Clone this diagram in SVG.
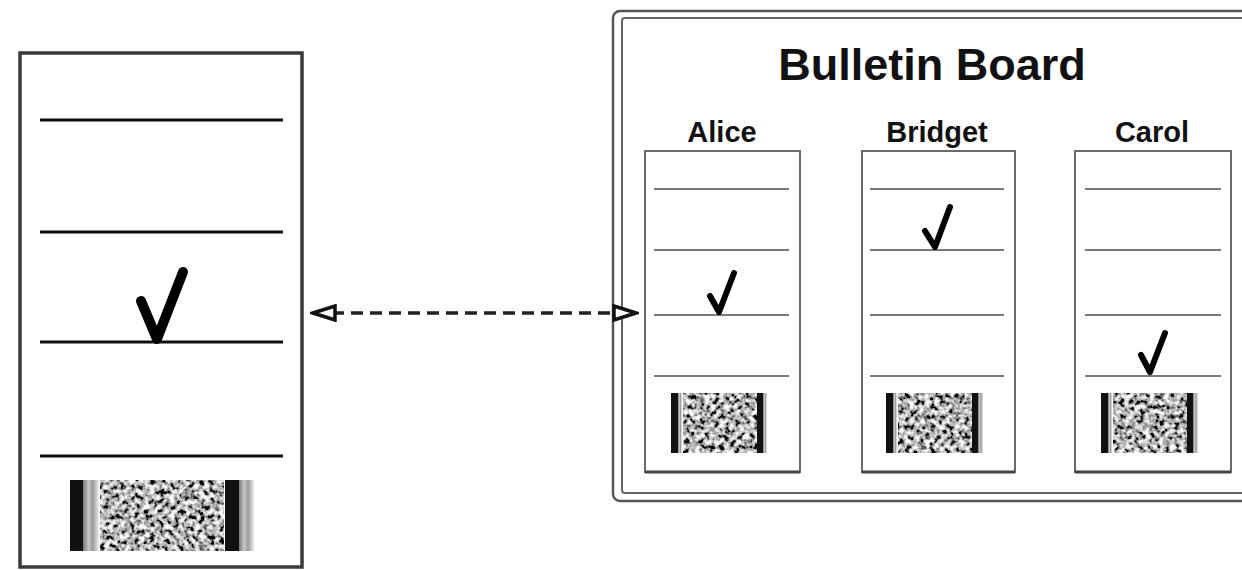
<svg xmlns="http://www.w3.org/2000/svg" width="1242" height="570" viewBox="0 0 1242 570">
  <style>
    .ballot { fill: #fff; stroke: #3a3a3a; stroke-width: 3.5; }
    .bigline { stroke: #111; stroke-width: 3; }
    .card { fill: #fff; stroke: #6a6a6a; stroke-width: 2; }
    .cardbottom { stroke: #444; stroke-width: 3; }
    .cardline { stroke: #7a7a7a; stroke-width: 2; }
    .check { fill: none; stroke: #000; stroke-linecap: round; stroke-linejoin: round; }
    .bar { fill: #111; }
    .title { font-family: "Liberation Sans", Arial, sans-serif; font-weight: bold; fill: #111; text-anchor: middle; }
    .conn { stroke: #222; stroke-width: 3.5; stroke-dasharray: 12 7; fill: none; }
  </style>
  <defs>
    <filter id="noise" x="0" y="0" width="1" height="1" filterUnits="objectBoundingBox">
      <feTurbulence type="fractalNoise" baseFrequency="0.2" numOctaves="2" seed="7" result="t"/>
      <feColorMatrix in="t" type="matrix" values="2.6 0 0 0 -0.85  2.6 0 0 0 -0.85  2.6 0 0 0 -0.85  0 0 0 0 1" result="g"/>
      <feGaussianBlur in="g" stdDeviation="0.7"/>
    </filter>
    <linearGradient id="fade" x1="0" y1="0" x2="1" y2="0">
      <stop offset="0" stop-color="#777"/>
      <stop offset="0.35" stop-color="#c8c8c8"/>
      <stop offset="0.6" stop-color="#999"/>
      <stop offset="1" stop-color="#eee"/>
    </linearGradient>
    <marker id="openTri" viewBox="0 0 28 18" refX="25" refY="9" markerWidth="28" markerHeight="18" markerUnits="userSpaceOnUse" orient="auto-start-reverse">
      <path d="M3,2 L25,9 L3,16 Z" fill="#fff" stroke="#111" stroke-width="3.5" stroke-linejoin="miter"/>
    </marker>
  </defs>

  <g id="ballot">
    <rect class="ballot" x="20" y="53" width="282" height="514"/>
    <line class="bigline" x1="40" y1="120" x2="283" y2="120"/>
    <line class="bigline" x1="40" y1="232" x2="283" y2="232"/>
    <line class="bigline" x1="40" y1="342" x2="283" y2="342"/>
    <line class="bigline" x1="40" y1="456" x2="283" y2="456"/>
    <path class="check" d="M141,301 L157,339 L183,272" stroke-width="10"/>
    <g id="ballot-barcode">
      <rect x="70" y="480" width="13" height="71" class="bar"/>
      <rect x="83" y="480" width="16" height="71" fill="url(#fade)"/>
      <rect x="100" y="480" width="124" height="71" filter="url(#noise)"/>
      <rect x="225" y="480" width="14" height="71" class="bar"/>
      <rect x="239" y="480" width="15" height="71" fill="url(#fade)"/>
    </g>
  </g>

  <g id="bulletin-board">
    <rect x="613" y="11" width="700" height="490" rx="7" fill="#fff" stroke="#555" stroke-width="2.5"/>
    <rect x="622" y="18" width="700" height="475" rx="3" fill="none" stroke="#666" stroke-width="2"/>
    <text class="title" x="932" y="80" font-size="45">Bulletin Board</text>

    <g id="alice">
      <text class="title" x="722" y="142" font-size="29">Alice</text>
      <rect class="card" x="645" y="151" width="155" height="321"/>
      <line class="cardbottom" x1="645" y1="472" x2="800" y2="472"/>
      <line class="cardline" x1="654" y1="189" x2="789" y2="189"/>
      <line class="cardline" x1="654" y1="250" x2="789" y2="250"/>
      <line class="cardline" x1="654" y1="315" x2="789" y2="315"/>
      <line class="cardline" x1="654" y1="376" x2="789" y2="376"/>
      <path class="check" d="M710,296 L719,312 L734,273" stroke-width="6"/>
      <rect x="671" y="393" width="7" height="60" class="bar"/>
      <rect x="678" y="393" width="4" height="60" fill="url(#fade)"/>
      <rect x="683" y="393" width="74" height="60" filter="url(#noise)"/>
      <rect x="757" y="393" width="6" height="60" class="bar"/>
      <rect x="763" y="393" width="4" height="60" fill="url(#fade)"/>
    </g>

    <g id="bridget">
      <text class="title" x="937" y="142" font-size="29">Bridget</text>
      <rect class="card" x="862" y="151" width="153" height="321"/>
      <line class="cardbottom" x1="862" y1="472" x2="1015" y2="472"/>
      <line class="cardline" x1="870" y1="189" x2="1004" y2="189"/>
      <line class="cardline" x1="870" y1="250" x2="1004" y2="250"/>
      <line class="cardline" x1="870" y1="315" x2="1004" y2="315"/>
      <line class="cardline" x1="870" y1="376" x2="1004" y2="376"/>
      <path class="check" d="M925,231 L935,247 L950,207" stroke-width="6"/>
      <rect x="886" y="393" width="7" height="60" class="bar"/>
      <rect x="893" y="393" width="4" height="60" fill="url(#fade)"/>
      <rect x="898" y="393" width="74" height="60" filter="url(#noise)"/>
      <rect x="972" y="393" width="6" height="60" class="bar"/>
      <rect x="978" y="393" width="5" height="60" fill="url(#fade)"/>
    </g>

    <g id="carol">
      <text class="title" x="1152" y="142" font-size="29">Carol</text>
      <rect class="card" x="1075" y="151" width="156" height="321"/>
      <line class="cardbottom" x1="1075" y1="472" x2="1231" y2="472"/>
      <line class="cardline" x1="1085" y1="189" x2="1221" y2="189"/>
      <line class="cardline" x1="1085" y1="250" x2="1221" y2="250"/>
      <line class="cardline" x1="1085" y1="315" x2="1221" y2="315"/>
      <line class="cardline" x1="1085" y1="376" x2="1221" y2="376"/>
      <path class="check" d="M1141,355 L1150,372 L1165,333" stroke-width="6"/>
      <rect x="1101" y="393" width="7" height="60" class="bar"/>
      <rect x="1108" y="393" width="4" height="60" fill="url(#fade)"/>
      <rect x="1113" y="393" width="74" height="60" filter="url(#noise)"/>
      <rect x="1187" y="393" width="6" height="60" class="bar"/>
      <rect x="1193" y="393" width="5" height="60" fill="url(#fade)"/>
    </g>
  </g>

  <g id="connectors">
    <line class="conn" x1="313" y1="313" x2="636" y2="313" marker-start="url(#openTri)" marker-end="url(#openTri)"/>
  </g>
</svg>
